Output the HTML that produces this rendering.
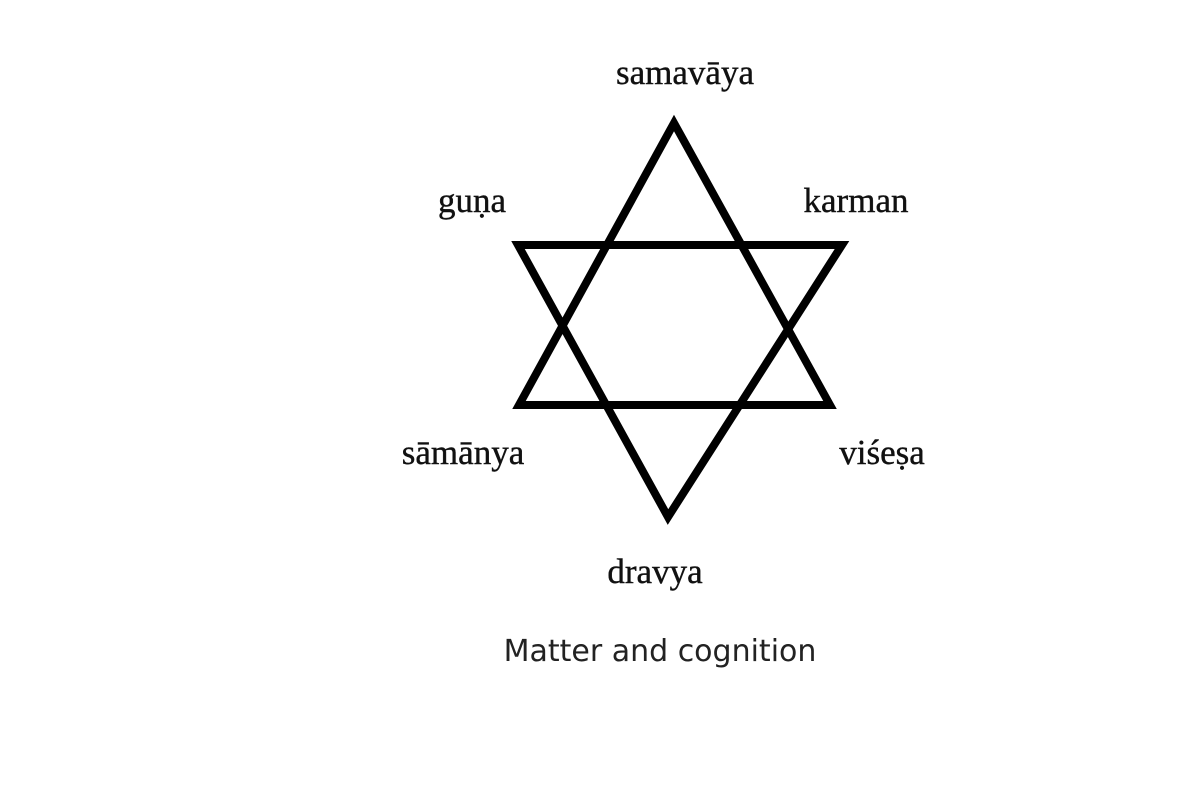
<!DOCTYPE html>
<html><head><meta charset="utf-8"><style>
body{margin:0;background:#fff;width:1200px;height:800px;overflow:hidden;position:relative}
.l{position:absolute;font-family:"Liberation Serif",serif;font-size:35px;color:#111;white-space:nowrap;transform:translateX(-50%);-webkit-text-stroke:0.4px #111}
.c{position:absolute;font-family:"DejaVu Sans","Liberation Sans",sans-serif;font-size:30px;color:#222;white-space:nowrap;transform:translateX(-50%)}
</style></head><body>
<svg width="1200" height="800" style="position:absolute;left:0;top:0">
<g fill="none" stroke="#000" stroke-width="8" stroke-linejoin="miter">
<polygon points="674,123 519,405 830,405"/>
<polygon points="518,245 842,245 668,517"/>
</g></svg>
<div class="l" style="left:685px;top:53px">samavāya</div>
<div class="l" style="left:472px;top:181px">guṇa</div>
<div class="l" style="left:856px;top:181px">karman</div>
<div class="l" style="left:463px;top:433px">sāmānya</div>
<div class="l" style="left:882px;top:433px">viśeṣa</div>
<div class="l" style="left:655px;top:552px">dravya</div>
<div class="c" style="left:660px;top:634px">Matter and cognition</div>
</body></html>
